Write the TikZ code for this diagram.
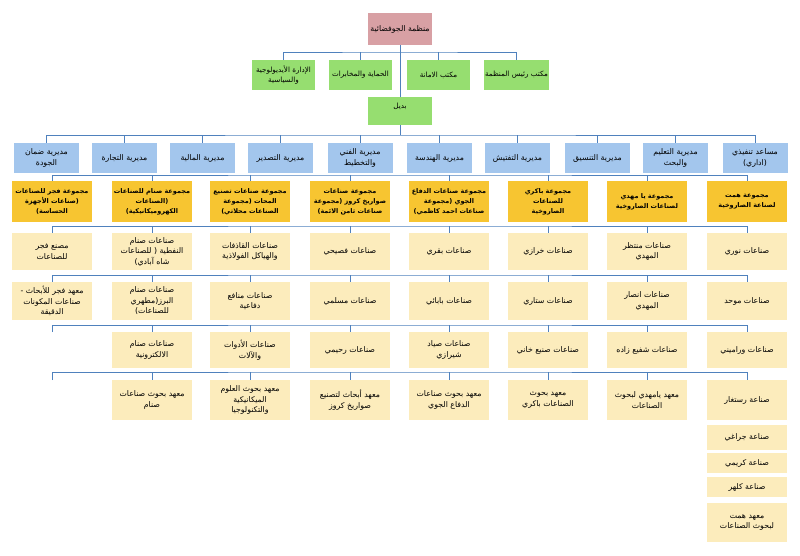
\documentclass[tikz,border=0pt]{standalone}
\usepackage{fontspec}
\newfontfamily\arabicfont[Script=Arabic]{DejaVu Sans}
\TeXXeTstate=1
\newcommand{\artx}[1]{\beginR #1\endR}

\definecolor{pinkc}{RGB}{216,160,164}
\definecolor{greenc}{RGB}{150,222,112}
\definecolor{bluec}{RGB}{163,198,237}
\definecolor{goldc}{RGB}{247,197,49}
\definecolor{lightc}{RGB}{252,236,188}
\definecolor{linec}{RGB}{79,129,189}

\tikzset{
  box/.style={inner sep=1pt, align=center, font=\arabicfont\fontsize{7.8}{10.5}\selectfont},
  pinkbox/.style={box, fill=pinkc, minimum width=64pt, minimum height=32pt},
  greenbox/.style={box, fill=greenc, minimum width=63pt, minimum height=30pt, font=\arabicfont\fontsize{7.2}{10}\selectfont},
  bluebox/.style={box, fill=bluec, minimum width=65pt, minimum height=30pt},
  grpbox/.style={box, fill=goldc, minimum width=80pt, minimum height=41pt, font=\arabicfont\bfseries\fontsize{6.5}{10}\selectfont},
  lbox/.style={box, fill=lightc, minimum width=80pt, minimum height=#1},
  lbox/.default=37pt,
  conn/.style={draw=linec, line width=0.8pt},
}

\begin{document}
\begin{tikzpicture}[x=1pt,y=1pt,yscale=-1,xscale=1]
\useasboundingbox (0,0) rectangle (800,555);

% Top Node
\node[pinkbox] (aio) at (400,29) {\artx{منظمة الجوفضائية}};

% Offices
\node[greenbox] (ideo) at (283.5,75) {\artx{الإدارة الأيديولوجية}\\\artx{والسياسية}};
\node[greenbox] (hemaya) at (360.5,75) {\artx{الحماية والمخابرات}};
\node[greenbox] (amana) at (438.5,75) {\artx{مكتب الامانة}};
\node[greenbox] (raees) at (516.5,75) {\artx{مكتب رئيس المنظمة}};
\node[greenbox, minimum width=64pt, minimum height=28pt, text height=6pt, text depth=12pt] (badil) at (400,111) {\artx{بديل}};

% Directorates
\node[bluebox] (quality) at (46.5,158) {\artx{مديرية ضمان}\\\artx{الجودة}};
\node[bluebox] (trade) at (124.5,158) {\artx{مديرية  التجارة}};
\node[bluebox] (finance) at (202.5,158) {\artx{مديرية  المالية}};
\node[bluebox] (export) at (280.5,158) {\artx{مديرية التصدير}};
\node[bluebox] (planning) at (360,158) {\artx{مديرية الفني}\\\artx{والتخطيط}};
\node[bluebox] (engineer) at (439.5,158) {\artx{مديرية الهندسة}};
\node[bluebox] (inspect) at (517.5,158) {\artx{مديرية التفتيش}};
\node[bluebox] (coord) at (597.5,158) {\artx{مديرية التنسيق}};
\node[bluebox] (educ) at (675.5,158) {\artx{مديرية التعليم}\\\artx{والبحث}};
\node[bluebox] (execu) at (755,158) {\artx{مساعد تنفيذي}\\\artx{(اداري)}};

% Groups
\node[grpbox] (fajrGrp) at (52,201.5) {\artx{مجموعة فجر للصناعات}\\\artx{(صناعات الأجهزة}\\\artx{الحساسة)}};
\node[grpbox] (sanamGrp) at (152,201.5) {\artx{مجموعة صنام للصناعات}\\\artx{(الصناعات}\\\artx{الكهروميكانيكية)}};
\node[grpbox] (mahalGrp) at (250,201.5) {\artx{مجموعة صناعات تصنيع}\\\artx{المحات (مجموعة}\\\artx{الصناعات محلاتي)}};
\node[grpbox] (cruiseGrp) at (350,201.5) {\artx{مجموعة صناعات}\\\artx{صواريخ كروز (مجموعة}\\\artx{صناعات ثامن الائمة)}};
\node[grpbox] (airdefGrp) at (449,201.5) {\artx{مجموعة صناعات الدفاع}\\\artx{الجوي (مجموعة}\\\artx{صناعات احمد كاظمي)}};
\node[grpbox] (bakeriGrp) at (548,201.5) {\artx{مجموعة باكري}\\\artx{للصناعات}\\\artx{الصاروخية}};
\node[grpbox] (mahdiGrp) at (647,201.5) {\artx{مجموعة يا مهدي}\\\artx{لصناعات الصاروخية}};
\node[grpbox] (hemmatGrp) at (747,201.5) {\artx{مجموعة همت}\\\artx{لصناعة الصاروخية}};

% Row 1
\node[lbox] (fajr1) at (52,251.5) {\artx{مصنع فجر}\\\artx{للصناعات}};
\node[lbox] (sanam1) at (152,251.5) {\artx{صناعات صنام}\\\artx{النفطية ( للصناعات}\\\artx{شاه آبادي)}};
\node[lbox] (mahal1) at (250,251.5) {\artx{صناعات القاذفات}\\\artx{والهياكل الفولاذية}};
\node[lbox] (cruise1) at (350,251.5) {\artx{صناعات فصيحي}};
\node[lbox] (airdef1) at (449,251.5) {\artx{صناعات بقري}};
\node[lbox] (bakeri1) at (548,251.5) {\artx{صناعات خرازي}};
\node[lbox] (mahdi1) at (647,251.5) {\artx{صناعات منتظر}\\\artx{المهدي}};
\node[lbox] (hemmat1) at (747,251.5) {\artx{صناعات نوري}};

% Row 2
\node[lbox=38pt] (fajr2) at (52,301) {\artx{معهد فجر للأبحاث -}\\\artx{صناعات المكونات}\\\artx{الدقيقة}};
\node[lbox=38pt] (sanam2) at (152,301) {\artx{صناعات صنام}\\\artx{البرز(مطهري}\\\artx{للصناعات)}};
\node[lbox=38pt] (mahal2) at (250,301) {\artx{صناعات منافع}\\\artx{دفاعية}};
\node[lbox=38pt] (cruise2) at (350,301) {\artx{صناعات مسلمي}};
\node[lbox=38pt] (airdef2) at (449,301) {\artx{صناعات بابائي}};
\node[lbox=38pt] (bakeri2) at (548,301) {\artx{صناعات ستاري}};
\node[lbox=38pt] (mahdi2) at (647,301) {\artx{صناعات انصار}\\\artx{المهدي}};
\node[lbox=38pt] (hemmat2) at (747,301) {\artx{صناعات موحد}};

% Row 3
\coordinate (fajr3) at (52,332);
\node[lbox=36pt] (sanam3) at (152,350) {\artx{صناعات صنام}\\\artx{الالكترونية}};
\node[lbox=36pt] (mahal3) at (250,350) {\artx{صناعات الأدوات}\\\artx{والآلات}};
\node[lbox=36pt] (cruise3) at (350,350) {\artx{صناعات رحيمي}};
\node[lbox=36pt] (airdef3) at (449,350) {\artx{صناعات صياد}\\\artx{شيرازي}};
\node[lbox=36pt] (bakeri3) at (548,350) {\artx{صناعات صنيع خاني}};
\node[lbox=36pt] (mahdi3) at (647,350) {\artx{صناعات شفيع زاده}};
\node[lbox=36pt] (hemmat3) at (747,350) {\artx{صناعات وراميني}};

% Row 4
\coordinate (fajr4) at (52,380);
\node[lbox=40pt] (sanam4) at (152,400) {\artx{معهد بحوث صناعات}\\\artx{صنام}};
\node[lbox=40pt] (mahal4) at (250,400) {\artx{معهد بحوث العلوم}\\\artx{الميكانيكية}\\\artx{والتكنولوجيا}};
\node[lbox=40pt] (cruise4) at (350,400) {\artx{معهد أبحاث  لتصنيع}\\\artx{صواريخ كروز}};
\node[lbox=40pt] (airdef4) at (449,400) {\artx{معهد بحوث صناعات}\\\artx{الدفاع الجوي}};
\node[lbox=40pt] (bakeri4) at (548,400) {\artx{معهد بحوث}\\\artx{الصناعات باكري}};
\node[lbox=40pt] (mahdi4) at (647,400) {\artx{معهد يامهدي لبحوث}\\\artx{الصناعات}};
\node[lbox=40pt] (hemmat4) at (747,400) {\artx{صناعة رستغار}};

% Hemmat column
\node[lbox=25pt] (hemmat5) at (747,437.5) {\artx{صناعة جراغي}};
\node[lbox=20pt] (hemmat6) at (747,463) {\artx{صناعة  كريمي}};
\node[lbox=20pt] (hemmat7) at (747,487) {\artx{صناعة كلهر}};
\node[lbox=39pt] (hemmat8) at (747,522.5) {\artx{معهد همت}\\\artx{لبحوث الصناعات}};

% Bus levels
\coordinate (busTop) at (400,52);
\coordinate (busDir) at (400,135);
\coordinate (busGrp) at (400,175);
\coordinate (busR1) at (400,226);
\coordinate (busR2) at (400,275);
\coordinate (busR3) at (400,325);
\coordinate (busR4) at (400,372);

%Straight Lines
\draw[conn] (ideo.north) |- (busTop) -| (raees.north);
\draw[conn] (hemaya.north) -- (hemaya.north |- busTop) (amana.north) -- (amana.north |- busTop);
\draw[conn] (aio.south) -- (badil.north);
\draw[conn] (badil.south) -- (busDir);

\draw[conn] (quality.north) |- (busDir) -| (execu.north);
\draw[conn] (trade.north) -- (trade.north |- busDir) (finance.north) -- (finance.north |- busDir)
  (export.north) -- (export.north |- busDir) (planning.north) -- (planning.north |- busDir)
  (engineer.north) -- (engineer.north |- busDir) (inspect.north) -- (inspect.north |- busDir)
  (coord.north) -- (coord.north |- busDir) (educ.north) -- (educ.north |- busDir);

\draw[conn] (fajrGrp.north) |- (busGrp) -| (hemmatGrp.north);
\draw[conn] (sanamGrp.north) -- (sanamGrp.north |- busGrp) (mahalGrp.north) -- (mahalGrp.north |- busGrp)
  (cruiseGrp.north) -- (cruiseGrp.north |- busGrp) (airdefGrp.north) -- (airdefGrp.north |- busGrp)
  (bakeriGrp.north) -- (bakeriGrp.north |- busGrp) (mahdiGrp.north) -- (mahdiGrp.north |- busGrp);

\draw[conn] (fajr1.north) |- (busR1) -| (hemmat1.north);
\draw[conn] (sanam1.north) -- (sanam1.north |- busR1) (mahal1.north) -- (mahal1.north |- busR1)
  (cruise1.north) -- (cruise1.north |- busR1) (airdef1.north) -- (airdef1.north |- busR1)
  (bakeri1.north) -- (bakeri1.north |- busR1) (mahdi1.north) -- (mahdi1.north |- busR1);

\draw[conn] (fajr2.north) |- (busR2) -| (hemmat2.north);
\draw[conn] (sanam2.north) -- (sanam2.north |- busR2) (mahal2.north) -- (mahal2.north |- busR2)
  (cruise2.north) -- (cruise2.north |- busR2) (airdef2.north) -- (airdef2.north |- busR2)
  (bakeri2.north) -- (bakeri2.north |- busR2) (mahdi2.north) -- (mahdi2.north |- busR2);

\draw[conn] (fajr3) |- (busR3) -| (hemmat3.north);
\draw[conn] (sanam3.north) -- (sanam3.north |- busR3) (mahal3.north) -- (mahal3.north |- busR3)
  (cruise3.north) -- (cruise3.north |- busR3) (airdef3.north) -- (airdef3.north |- busR3)
  (bakeri3.north) -- (bakeri3.north |- busR3) (mahdi3.north) -- (mahdi3.north |- busR3);

\draw[conn] (fajr4) |- (busR4) -| (hemmat4.north);
\draw[conn] (sanam4.north) -- (sanam4.north |- busR4) (mahal4.north) -- (mahal4.north |- busR4)
  (cruise4.north) -- (cruise4.north |- busR4) (airdef4.north) -- (airdef4.north |- busR4)
  (bakeri4.north) -- (bakeri4.north |- busR4) (mahdi4.north) -- (mahdi4.north |- busR4);

\end{tikzpicture}
\end{document}
